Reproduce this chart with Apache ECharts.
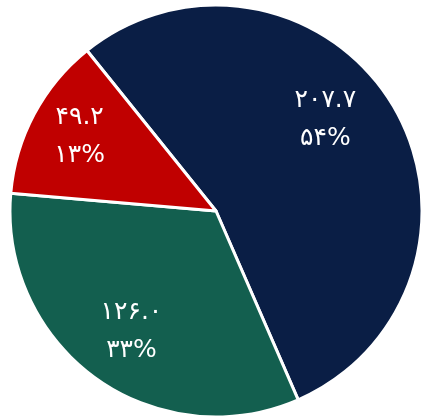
<!DOCTYPE html>
<html>
<head>
<meta charset="utf-8">
<script src="https://cdn.jsdelivr.net/npm/echarts@6/dist/echarts.min.js"></script>
<style>
  html, body { margin: 0; padding: 0; background: #ffffff; }
  #chart { width: 421px; height: 416px; }
</style>
</head>
<body>
<div id="chart"></div>
<script>
// Slice names and values (clockwise from the upper-left boundary)
const categories = ['A', 'B', 'C'];
const values = [207.7, 126.0, 49.2];
const colors = ['#0a1e45', '#135f4f', '#c00000'];

// small nudges for the value labels, per slice
const labelNudge = [[-19, -14], [3, -1], [-4, -4]];

const faDigits = ['۰','۱','۲','۳','۴','۵','۶','۷','۸','۹'];
function toPersian(s) {
  return String(s).replace(/[0-9]/g, d => faDigits[+d]);
}

const pieData = categories.map((name, i) => ({
  name: name,
  value: values[i],
  itemStyle: { color: colors[i] }
}));

const chart = echarts.init(document.getElementById('chart'));
chart.setOption({
  animation: false,
  backgroundColor: '#ffffff',
  series: [
    {
      type: 'pie',
      center: [216, 211],
      radius: [0, 206],
      startAngle: 128.8,
      clockwise: true,
      silent: true,
      itemStyle: { borderColor: '#ffffff', borderWidth: 3 },
      label: { show: false },
      labelLine: { show: false },
      data: pieData
    },
    {
      // transparent ring used only to place the value labels
      type: 'pie',
      center: [216, 211],
      radius: [84, 210],
      startAngle: 128.8,
      clockwise: true,
      silent: true,
      itemStyle: { color: 'rgba(0,0,0,0)', borderWidth: 0 },
      labelLine: { show: false },
      labelLayout: p => ({ dx: labelNudge[p.dataIndex][0], dy: labelNudge[p.dataIndex][1] }),
      label: {
        show: true,
        position: 'inside',
        color: '#ffffff',
        fontFamily: 'DejaVu Sans',
        fontSize: 25,
        lineHeight: 38,
        formatter: p => toPersian(p.value.toFixed(1)) + '\n' + toPersian(Math.round(p.percent)) + '%'
      },
      data: categories.map((name, i) => ({ name: name, value: values[i] }))
    }
  ]
});
</script>
</body>
</html>
